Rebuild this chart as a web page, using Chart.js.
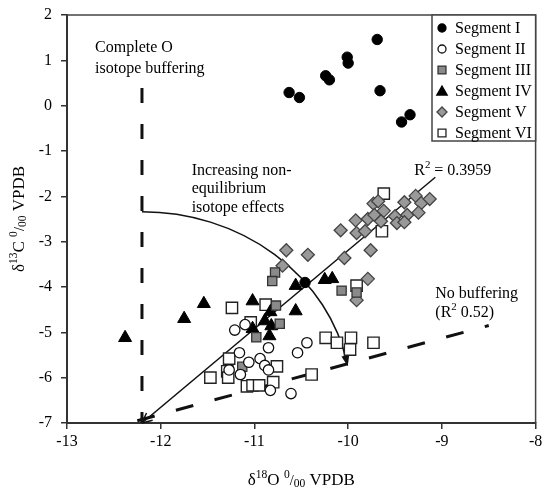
<!DOCTYPE html>
<html><head><meta charset="utf-8">
<script src="https://cdn.jsdelivr.net/npm/chart.js@4.4.0/dist/chart.umd.min.js"></script>
<style>html,body{margin:0;padding:0;background:#fff}</style>
</head><body>
<canvas id="c" width="545" height="490" style="width:545px;height:490px;display:block"></canvas>
<script>
// ---- data ----
const seriesNames = ['Segment I','Segment II','Segment III','Segment IV','Segment V','Segment VI'];
const xTicks = [-13,-12,-11,-10,-9,-8];
const yTicks = [-7,-6,-5,-4,-3,-2,-1,0,1,2];

const seg1X = [-9.69,-10.01,-10.00,-10.24,-10.20,-10.63,-10.52,-9.66,-9.34,-9.43,-10.46];
const seg1Y = [1.46,1.07,0.94,0.66,0.57,0.29,0.18,0.33,-0.20,-0.36,-3.90];

const seg2X = [-11.21,-11.10,-11.16,-10.85,-10.94,-11.06,-10.89,-11.27,-11.15,-10.85,-10.54,-10.44,-10.83,-10.61];
const seg2Y = [-4.95,-4.83,-5.45,-5.34,-5.58,-5.66,-5.73,-5.83,-5.93,-5.83,-5.45,-5.23,-6.28,-6.35];

const seg3X = [-10.78,-10.81,-10.07,-10.77,-10.73,-10.98,-11.13,-9.91];
const seg3Y = [-3.68,-3.87,-4.08,-4.41,-4.81,-5.11,-5.76,-4.12];

const seg4X = [-12.38,-11.75,-11.54,-11.02,-10.56,-10.56,-10.25,-10.17,-10.83,-10.89,-10.82,-10.84,-11.02];
const seg4Y = [-5.12,-4.70,-4.37,-4.31,-3.97,-4.53,-3.84,-3.82,-4.55,-4.75,-4.86,-5.08,-4.92];

const seg5X = [-9.73,-9.68,-9.92,-9.79,-9.72,-9.62,-9.65,-10.08,-9.91,-9.82,-9.76,-10.04,-9.50,-9.40,-9.37,-9.28,-9.22,-9.13,-9.25,-9.48,-9.40,-10.66,-10.43,-10.70,-9.79,-9.91];
const seg5Y = [-2.16,-2.11,-2.53,-2.50,-2.41,-2.32,-2.55,-2.75,-2.81,-2.77,-3.19,-3.36,-2.44,-2.13,-2.41,-1.99,-2.15,-2.06,-2.36,-2.59,-2.57,-3.19,-3.29,-3.53,-3.82,-4.29];

const seg6X = [-9.62,-9.64,-11.24,-10.88,-11.04,-11.27,-11.29,-11.28,-11.47,-10.76,-11.08,-11.02,-10.95,-10.80,-10.39,-10.24,-10.12,-9.97,-9.98,-9.73,-9.91];
const seg6Y = [-1.94,-2.77,-4.46,-4.39,-4.78,-5.58,-5.86,-6.00,-6.00,-5.75,-6.19,-6.17,-6.17,-6.10,-5.93,-5.12,-5.23,-5.12,-5.38,-5.23,-3.97];

// reference lines
const bufferX = [-12.2,-12.2], bufferY = [0.39,-7];
const regX = [-12.2,-9.07], regY = [-7,-1.58];
const noBufX = [-12.25,-8.5], noBufY = [-6.95,-4.85];

// ---- annotation geometry (data units) ----
const arcCenter = {x:-12.2, y:-6.48};
const arcRadii = {x:2.23, y:4.14};
const arcEnd = {x:-10.0, y:-5.68};

const FONT = '"Liberation Serif", "Times New Roman", serif';

function pts(xs, ys){ return xs.map((x,i)=>({x:x, y:ys[i]})); }

const pointSets = [
  {data:pts(seg1X,seg1Y), pointStyle:'circle', pointRadius:5.2, backgroundColor:'#000', borderColor:'#000', borderWidth:1},
  {data:pts(seg2X,seg2Y), pointStyle:'circle', pointRadius:5.2, backgroundColor:'#fff', borderColor:'#111', borderWidth:1.3},
  {data:pts(seg3X,seg3Y), pointStyle:'rect', pointRadius:6.5, backgroundColor:'#8a8a8a', borderColor:'#333', borderWidth:1.3},
  {data:pts(seg4X,seg4Y), pointStyle:'triangle', pointRadius:7.5, backgroundColor:'#000', borderColor:'#000', borderWidth:1},
  {data:pts(seg5X,seg5Y), pointStyle:'rectRot', pointRadius:6.5, backgroundColor:'#999', borderColor:'#444', borderWidth:1.3},
  {data:pts(seg6X,seg6Y), pointStyle:'rect', pointRadius:8, backgroundColor:'#fff', borderColor:'#222', borderWidth:1.4}
].map((d,i)=>Object.assign({label:seriesNames[i], type:'scatter', order:1, pointHoverRadius:d.pointRadius}, d));

const lineSets = [
  {label:'Complete O isotope buffering', data:pts(bufferX,bufferY), borderDash:[15,21], borderWidth:3, borderColor:'#111'},
  {label:'Regression', data:pts(regX,regY), borderWidth:1.5, borderColor:'#111'},
  {label:'No buffering', data:pts(noBufX,noBufY), borderDash:[18,22], borderWidth:3, borderColor:'#111'}
].map(d=>Object.assign({type:'line', showLine:true, pointRadius:0, fill:false, order:5, borderCapStyle:'butt'}, d));

function drawRich(ctx, parts, x, y, align, size){
  let w = 0;
  parts.forEach(p=>{ ctx.font = (size*(p[1]||1))+'px '+FONT; w += ctx.measureText(p[0]).width; });
  let cx = align==='center' ? x - w/2 : (align==='right' ? x - w : x);
  ctx.textAlign = 'left';
  ctx.textBaseline = 'alphabetic';
  parts.forEach(p=>{
    ctx.font = (size*(p[1]||1))+'px '+FONT;
    ctx.fillText(p[0], cx, y + (p[2]||0)*size);
    cx += ctx.measureText(p[0]).width;
  });
}

function marker(ctx, style, x, y, r, fill, stroke, lw){
  ctx.save();
  ctx.fillStyle = fill; ctx.strokeStyle = stroke; ctx.lineWidth = lw;
  ctx.beginPath();
  if (style==='circle'){ ctx.arc(x,y,r,0,Math.PI*2); }
  else if (style==='rect'){ const s=r*Math.SQRT1_2; ctx.rect(x-s,y-s,2*s,2*s); }
  else if (style==='rectRot'){ ctx.moveTo(x,y-r); ctx.lineTo(x+r,y); ctx.lineTo(x,y+r); ctx.lineTo(x-r,y); ctx.closePath(); }
  else if (style==='triangle'){ ctx.moveTo(x,y-r); ctx.lineTo(x+r*0.866,y+r*0.5); ctx.lineTo(x-r*0.866,y+r*0.5); ctx.closePath(); }
  ctx.fill(); ctx.stroke();
  ctx.restore();
}

const annot = {
  id:'annot',
  beforeDatasetsDraw(chart){
    const ctx = chart.ctx, xs = chart.scales.x, ys = chart.scales.y;
    const cx = xs.getPixelForValue(arcCenter.x), cy = ys.getPixelForValue(arcCenter.y);
    const rx = xs.getPixelForValue(arcCenter.x + arcRadii.x) - cx;
    const ry = cy - ys.getPixelForValue(arcCenter.y + arcRadii.y);
    const ex = xs.getPixelForValue(arcEnd.x), ey = ys.getPixelForValue(arcEnd.y);
    const tEnd = Math.atan2((ey-cy)/ry, (ex-cx)/rx);
    ctx.save();
    ctx.strokeStyle = '#111'; ctx.lineWidth = 1.5;
    ctx.beginPath();
    ctx.ellipse(cx, cy, rx, ry, 0, -Math.PI/2, tEnd);
    ctx.stroke();
    // arrowhead at arc end
    const tx = -rx*Math.sin(tEnd), ty = ry*Math.cos(tEnd);
    const L = Math.hypot(tx,ty), ux = tx/L, uy = ty/L;
    const px = cx + rx*Math.cos(tEnd), py = cy + ry*Math.sin(tEnd);
    const tipX = px + ux*3, tipY = py + uy*3;
    ctx.fillStyle = '#111';
    ctx.beginPath();
    ctx.moveTo(tipX, tipY);
    ctx.lineTo(tipX - ux*11 - uy*4, tipY - uy*11 + ux*4);
    ctx.lineTo(tipX - ux*11 + uy*4, tipY - uy*11 - ux*4);
    ctx.closePath(); ctx.fill();
    // open arrowhead at the bottom of regression line
    const ax = xs.getPixelForValue(regX[0]), ay = ys.getPixelForValue(regY[0]);
    const bx = xs.getPixelForValue(regX[1]), by = ys.getPixelForValue(regY[1]);
    const dl = Math.hypot(bx-ax, by-ay), dx = (bx-ax)/dl, dy = (by-ay)/dl;
    ctx.lineWidth = 1.5;
    ctx.beginPath();
    const ang = 0.45;
    ctx.moveTo(ax, ay);
    ctx.lineTo(ax + 11*(dx*Math.cos(ang) - dy*Math.sin(ang)), ay + 11*(dx*Math.sin(ang) + dy*Math.cos(ang)));
    ctx.moveTo(ax, ay);
    ctx.lineTo(ax + 11*(dx*Math.cos(-ang) - dy*Math.sin(-ang)), ay + 11*(dx*Math.sin(-ang) + dy*Math.cos(-ang)));
    ctx.stroke();
    ctx.restore();
  },
  afterDraw(chart){
    const ctx = chart.ctx, xs = chart.scales.x, ys = chart.scales.y, a = chart.chartArea;
    ctx.save();
    // frame (top & right)
    ctx.strokeStyle = '#444'; ctx.lineWidth = 1.5;
    ctx.beginPath();
    ctx.moveTo(a.left, a.top); ctx.lineTo(a.right, a.top); ctx.lineTo(a.right, a.bottom);
    ctx.stroke();
    ctx.fillStyle = '#000';
    const X = v=>xs.getPixelForValue(v), Y = v=>ys.getPixelForValue(v);
    const S = 16;
    // annotations
    drawRich(ctx, [['Complete O']], X(-12.70), Y(1.30)+5.5, 'left', S);
    drawRich(ctx, [['isotope buffering']], X(-12.70), Y(0.84)+5.5, 'left', S);
    drawRich(ctx, [['Increasing non-']], X(-11.67), Y(-1.41)+5.5, 'left', S);
    drawRich(ctx, [['equilibrium']], X(-11.67), Y(-1.81)+5.5, 'left', S);
    drawRich(ctx, [['isotope effects']], X(-11.67), Y(-2.23)+5.5, 'left', S);
    drawRich(ctx, [['R'],['2',0.68,-0.42],[' = 0.3959']], X(-9.295), Y(-1.41)+5.5, 'left', S);
    drawRich(ctx, [['No buffering']], X(-9.07), Y(-4.12)+5.5, 'left', S);
    drawRich(ctx, [['(R'],['2',0.68,-0.42],[' 0.52)']], X(-9.07), Y(-4.54)+5.5, 'left', S);
    // axis titles
    const titleParts = (iso, el)=>[['δ'],[iso,0.68,-0.42],[el+' '],['0',0.68,-0.42],['/',0.85],['00',0.68,0.12],[' VPDB']];
    drawRich(ctx, titleParts('18','O'), (a.left+a.right)/2, 485, 'center', 17);
    ctx.save();
    ctx.translate(24, (a.top+a.bottom)/2);
    ctx.rotate(-Math.PI/2);
    drawRich(ctx, titleParts('13','C'), 0, 0, 'center', 17);
    ctx.restore();
    // legend
    const lx = 432, ly = a.top, lw = a.right - lx, lh = 126;
    ctx.fillStyle = '#fff';
    ctx.fillRect(lx, ly, lw, lh);
    ctx.strokeStyle = '#444'; ctx.lineWidth = 1.5;
    ctx.strokeRect(lx, ly, lw, lh);
    const styles = chart.data.datasets.filter(d=>d.type==='scatter');
    styles.forEach((d,i)=>{
      const yy = ly + 13 + i*21;
      const r = d.pointStyle==='triangle' ? 6 : (d.pointStyle==='rect' ? 5.6 : (d.pointStyle==='rectRot' ? 5 : 4));
      marker(ctx, d.pointStyle, lx + 10, yy + (d.pointStyle==='triangle'?1:0), r, d.backgroundColor, d.borderColor, 1.3);
      ctx.fillStyle = '#000';
      ctx.font = '16px '+FONT; ctx.textAlign='left'; ctx.textBaseline='middle';
      ctx.fillText(d.label, lx + 23, yy + 1);
    });
    ctx.restore();
  }
};

new Chart(document.getElementById('c'), {
  type:'scatter',
  data:{ datasets: pointSets.concat(lineSets) },
  options:{
    responsive:false, animation:false,
    layout:{padding:{top:15, right:7, left:0, bottom:0}},
    plugins:{legend:{display:false}, tooltip:{enabled:false}},
    scales:{
      x:{type:'linear', min:-13, max:-8,
         afterBuildTicks: s=>{ s.ticks = xTicks.map(v=>({value:v})); },
         ticks:{font:{family:FONT, size:16}, color:'#000', padding:3},
         grid:{drawOnChartArea:false, drawTicks:true, tickLength:6, color:'#333', lineWidth:1.5},
         border:{display:true, color:'#333', width:2},
         afterFit: s=>{ s.height = 67; s.paddingLeft = 0; s.paddingRight = 0; }},
      y:{type:'linear', min:-7, max:2,
         afterBuildTicks: s=>{ s.ticks = yTicks.map(v=>({value:v})); },
         ticks:{font:{family:FONT, size:16}, color:'#000', padding:9},
         grid:{drawOnChartArea:false, drawTicks:true, tickLength:6, color:'#333', lineWidth:1.5},
         border:{display:true, color:'#333', width:2},
         afterFit: s=>{ s.width = 67; s.paddingTop = 0; s.paddingBottom = 0; }}
    }
  },
  plugins:[annot]
});
</script>
</body></html>
